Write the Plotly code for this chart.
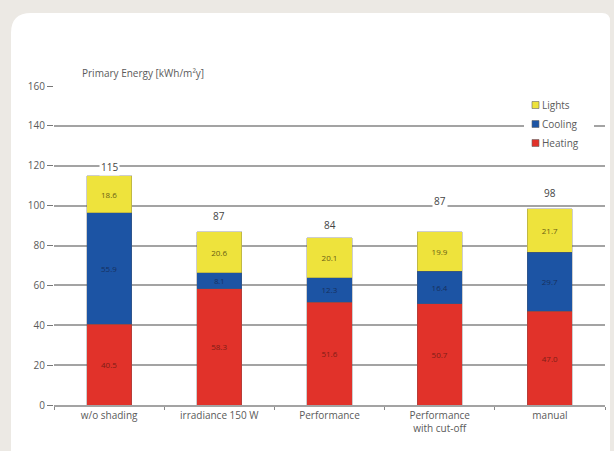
import plotly.graph_objects as go

# ── Data ─────────────────────────────────────────────────────────────────────
categories = ["w/o shading", "irradiance 150 W", "Performance",
              "Performance<br>with cut-off", "manual"]
heating = [40.5, 58.3, 51.6, 50.7, 47.0]
cooling = [55.9, 8.1, 12.3, 16.4, 29.7]
lights = [18.6, 20.6, 20.1, 19.9, 21.7]
totals = [115, 87, 84, 87, 98]

# label offsets above each bar (px)
total_shift = [9, 16, 13, 31, 17]

GREY_TXT = "#5a5a5a"
FONT = "Open Sans"

# plot area in pixels
L, R, T, B = 54, 605, 86, 405


def px2x(px):
    return (px - L) / (R - L)


def px2y(py):
    return (B - py) / (B - T)


fig = go.Figure()
series = [
    ("Heating", heating, "#e1322a", "#7e1d16"),
    ("Cooling", cooling, "#1c54a4", "#17305e"),
    ("Lights", lights, "#eee33c", "#6a5f14"),
]
for name, vals, clr, txt in series:
    fig.add_trace(go.Bar(
        x=categories, y=vals, name=name,
        marker=dict(color=clr, line=dict(color="rgba(90,90,90,0.5)", width=0.6)),
        text=[f"{v:.1f}" for v in vals], textposition="inside",
        insidetextanchor="middle",
        textfont=dict(size=8, color=txt, family=FONT),
        width=0.41, hoverinfo="skip", showlegend=False,
    ))

for cat, tot, sh in zip(categories, totals, total_shift):
    fig.add_annotation(x=cat, y=tot, text=str(tot), showarrow=False,
                       yanchor="middle", yshift=sh, bgcolor="white",
                       borderpad=1,
                       font=dict(size=10, color="#444", family=FONT))

# white card on beige background
x0, x1, y0, y1, rad = px2x(11), px2x(610), px2y(13), px2y(460), 20
fig.add_shape(type="path", xref="paper", yref="paper", layer="below",
              path=(f"M {x0},{px2y(13 + rad)} Q {x0},{y0} {px2x(11 + rad)},{y0} "
                    f"L {px2x(610 - 8)},{y0} Q {x1},{y0} {x1},{px2y(21)} "
                    f"L {x1},{y1} L {x0},{y1} Z"),
              fillcolor="white", line=dict(width=0))

fig.add_annotation(x=px2x(80), y=px2y(73), xref="paper", yref="paper",
                   xanchor="left", yanchor="middle",
                   text="Primary Energy [kWh/m²y]", showarrow=False,
                   font=dict(size=10, color=GREY_TXT, family=FONT))

# legend (drawn by hand to get the small squares)
fig.add_shape(type="rect", xref="paper", yref="paper", layer="above",
              x0=px2x(524), x1=px2x(594), y0=px2y(151), y1=px2y(97),
              fillcolor="white", line=dict(width=0))
for i, (name, _, clr, _) in enumerate(reversed(series)):
    cy = 105 + 19 * i
    fig.add_shape(type="rect", xref="paper", yref="paper", layer="above",
                  x0=px2x(532), x1=px2x(539), y0=px2y(cy + 3.5), y1=px2y(cy - 3.5),
                  fillcolor=clr, line=dict(color="#666", width=0.6))
    fig.add_annotation(x=px2x(540), y=px2y(cy), xref="paper", yref="paper",
                       xanchor="left", yanchor="middle", text=name,
                       showarrow=False,
                       font=dict(size=10, color=GREY_TXT, family=FONT))

fig.update_layout(
    width=614, height=451,
    margin=dict(l=L, r=614 - R, t=T, b=451 - B, autoexpand=False),
    paper_bgcolor="#ece9e4", plot_bgcolor="white",
    barmode="stack", showlegend=False,
    font=dict(family=FONT),
)
fig.update_yaxes(range=[0, 160], dtick=20, showgrid=True, automargin=False,
                 gridcolor="#a3a3a3", gridwidth=1.5, zeroline=False,
                 ticks="outside", ticklen=6, tickcolor="#777",
                 tickfont=dict(size=10, color=GREY_TXT, family=FONT))
fig.update_xaxes(showline=True, linecolor="#a3a3a3", linewidth=1.5,
                 automargin=False,
                 ticks="outside", tickson="boundaries", ticklen=3,
                 tickcolor="#888",
                 tickfont=dict(size=10, color=GREY_TXT, family=FONT))

# drop the default page margin so the figure sits at the window's corner
fig.write_html("out.html", config={"displayModeBar": False},
               post_script="document.body.style.margin='0';"
                           "document.body.style.background='#ece9e4';")
